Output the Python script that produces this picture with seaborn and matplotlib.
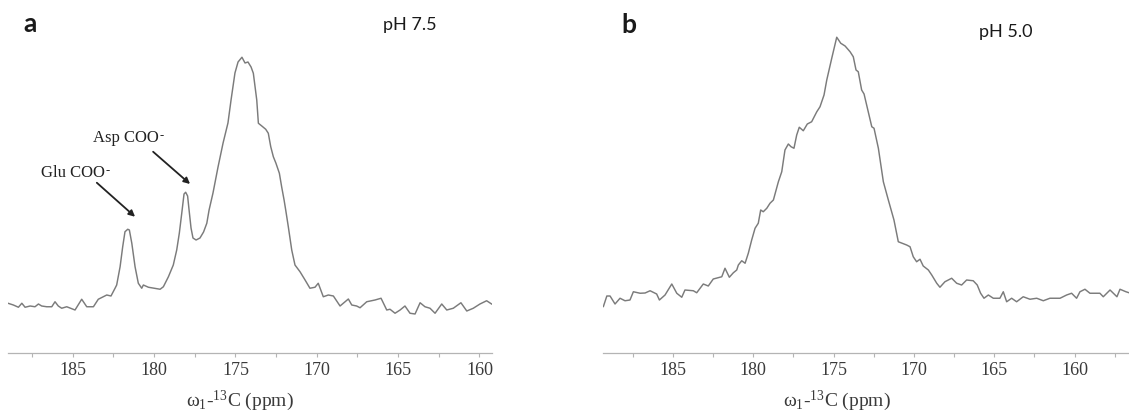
import matplotlib
matplotlib.use("Agg")
import matplotlib.pyplot as plt
import seaborn as sns
import pandas as pd
from matplotlib.ticker import MultipleLocator

# ---------------- data ----------------
ppm_a = [188.98, 188.65, 188.34, 188.13, 187.93, 187.62, 187.32, 187.11, 186.91, 186.60,
         186.29, 186.09, 185.89, 185.68, 185.37, 184.86, 184.45, 184.14, 183.73, 183.43,
         182.91, 182.65, 182.40, 182.30, 182.09, 181.93, 181.79, 181.62, 181.52, 181.37,
         181.17, 180.97, 180.76, 180.66, 180.35, 179.63, 179.43, 179.12, 178.82, 178.61,
         178.45, 178.30, 178.16, 178.06, 177.94, 177.85, 177.73, 177.61, 177.42, 177.18,
         176.96, 176.76, 176.62, 176.38, 176.07, 175.76, 175.46, 175.27, 175.03, 174.84,
         174.60, 174.41, 174.23, 174.04, 173.90, 173.69, 173.59, 173.38, 173.14, 172.98,
         172.83, 172.67, 172.51, 172.30, 172.16, 172.01, 171.91, 171.75, 171.54, 171.34,
         171.03, 170.72, 170.42, 170.11, 169.91, 169.60, 169.29, 168.98, 168.57, 168.06,
         167.85, 167.55, 167.34, 166.93, 166.42, 166.05, 165.70, 165.50, 165.19, 164.88,
         164.58, 164.27, 163.96, 163.65, 163.35, 163.04, 162.73, 162.32, 162.01, 161.61,
         161.14, 160.78, 160.38, 159.97, 159.56, 159.23]
int_a = [0.015, 0.008, -0.001, 0.015, -0.001, 0.004, 0.001, 0.012, 0.004, 0.001,
         0.001, 0.021, 0.004, -0.005, 0.001, -0.012, 0.031, 0.001, 0.001, 0.031,
         0.048, 0.044, 0.075, 0.088, 0.161, 0.241, 0.301, 0.311, 0.308, 0.255,
         0.161, 0.095, 0.075, 0.088, 0.079, 0.071, 0.081, 0.121, 0.168, 0.228,
         0.295, 0.375, 0.452, 0.459, 0.444, 0.388, 0.316, 0.276, 0.268, 0.276,
         0.300, 0.335, 0.388, 0.456, 0.560, 0.656, 0.736, 0.828, 0.936, 0.980,
         0.999, 0.976, 0.980, 0.960, 0.935, 0.828, 0.735, 0.724, 0.711, 0.695,
         0.641, 0.601, 0.575, 0.535, 0.481, 0.428, 0.388, 0.321, 0.228, 0.168,
         0.141, 0.108, 0.075, 0.079, 0.095, 0.041, 0.048, 0.044, 0.004, 0.032,
         0.008, 0.004, -0.003, 0.021, 0.028, 0.035, -0.012, -0.009, -0.025, -0.012,
         0.004, -0.025, -0.028, 0.017, 0.001, -0.005, -0.025, 0.012, -0.012, -0.005,
         0.017, -0.016, -0.005, 0.012, 0.025, 0.011]

ppm_b = [189.32, 189.10, 188.90, 188.59, 188.28, 187.97, 187.66, 187.45, 187.03, 186.72,
         186.41, 186.00, 185.83, 185.48, 185.06, 184.75, 184.44, 184.24, 183.72, 183.51,
         183.10, 182.79, 182.48, 181.95, 181.75, 181.48, 181.23, 181.02, 180.92, 180.71,
         180.50, 180.30, 180.09, 179.88, 179.68, 179.53, 179.37, 179.15, 178.95, 178.74,
         178.43, 178.22, 178.02, 177.81, 177.64, 177.46, 177.29, 177.13, 176.88, 176.63,
         176.36, 176.04, 175.84, 175.59, 175.42, 175.11, 174.80, 174.55, 174.28, 173.97,
         173.77, 173.60, 173.46, 173.25, 173.10, 172.84, 172.62, 172.48, 172.21, 171.90,
         171.59, 171.24, 170.97, 170.45, 170.24, 170.04, 169.83, 169.62, 169.42, 169.10,
         168.89, 168.58, 168.38, 168.07, 167.65, 167.34, 167.03, 166.72, 166.31, 166.06,
         165.85, 165.64, 165.37, 165.06, 164.65, 164.44, 164.23, 163.92, 163.61, 163.20,
         162.78, 162.36, 161.95, 161.54, 160.91, 160.50, 160.19, 159.88, 159.67, 159.36,
         159.05, 158.43, 158.22, 157.80, 157.37, 157.18, 156.81, 156.62]
int_b = [0.001, 0.044, 0.044, 0.012, 0.035, 0.025, 0.028, 0.061, 0.055, 0.056,
         0.065, 0.052, 0.028, 0.048, 0.092, 0.055, 0.039, 0.068, 0.065, 0.057,
         0.092, 0.084, 0.112, 0.121, 0.155, 0.119, 0.137, 0.148, 0.168, 0.185,
         0.175, 0.215, 0.268, 0.315, 0.335, 0.388, 0.381, 0.395, 0.415, 0.428,
         0.501, 0.541, 0.628, 0.652, 0.641, 0.635, 0.688, 0.719, 0.705, 0.732,
         0.741, 0.781, 0.801, 0.848, 0.908, 0.995, 1.079, 1.055, 1.044, 1.021,
         1.001, 0.948, 0.941, 0.868, 0.852, 0.781, 0.721, 0.715, 0.635, 0.501,
         0.428, 0.348, 0.261, 0.248, 0.241, 0.201, 0.181, 0.191, 0.164, 0.148,
         0.128, 0.095, 0.079, 0.101, 0.115, 0.095, 0.088, 0.108, 0.105, 0.088,
         0.055, 0.035, 0.048, 0.035, 0.035, 0.061, 0.021, 0.035, 0.021, 0.041,
         0.031, 0.035, 0.025, 0.035, 0.035, 0.048, 0.055, 0.035, 0.061, 0.071,
         0.055, 0.055, 0.041, 0.068, 0.041, 0.071, 0.061, 0.057]

panel_letters = ["a", "b"]
panel_titles = ["pH 7.5", "pH 5.0"]
peak_names = ["Glu COO", "Asp COO"]
xlabel_text = "ω$_1$-$^{13}$C (ppm)"
major_step = 5
minor_step = 2.5

# ---------------- style ----------------
sns.set_style("white")
plt.rcParams["font.family"] = ["Liberation Serif", "DejaVu Serif"]
plt.rcParams["mathtext.fontset"] = "custom"
plt.rcParams["mathtext.rm"] = "Liberation Serif"
plt.rcParams["mathtext.it"] = "Liberation Serif:italic"

W, H = 1129, 413
fig = plt.figure(figsize=(W / 100, H / 100), dpi=100)

line_color = "#7b7b7b"
axis_color = "#b4b4b4"
text_color = "#3a3a3a"

ybot_px, ytop_px = 352.6, 30.0
ax_bottom = 1 - ybot_px / H
ax_height = (ybot_px - ytop_px) / H

ax_a = fig.add_axes([8 / W, ax_bottom, (492 - 8) / W, ax_height])
ax_b = fig.add_axes([603.3 / W, ax_bottom, (W - 603.3) / W, ax_height])

df_a = pd.DataFrame({"ppm": ppm_a, "intensity": int_a})
df_b = pd.DataFrame({"ppm": ppm_b, "intensity": int_b})

for ax, df, xl, xlab_x in [(ax_a, df_a, (188.98, 159.23), 0.479),
                           (ax_b, df_b, (189.32, 156.62), 0.4446)]:
    sns.lineplot(data=df, x="ppm", y="intensity", ax=ax, sort=False,
                 estimator=None, color=line_color, linewidth=1.05)
    ax.set_xlim(*xl)
    ax.set_ylim(-0.1824, 1.108)
    for s in ["top", "right", "left"]:
        ax.spines[s].set_visible(False)
    ax.spines["bottom"].set_color(axis_color)
    ax.spines["bottom"].set_linewidth(0.9)
    ax.set_yticks([])
    ax.set_ylabel("")
    ax.xaxis.set_major_locator(MultipleLocator(major_step))
    ax.xaxis.set_minor_locator(MultipleLocator(minor_step))
    ax.tick_params(axis="x", which="both", direction="out", length=3, width=0.8,
                   color=axis_color, labelsize=13, labelcolor=text_color, pad=3.5,
                   bottom=True)
    ax.set_xlabel(xlabel_text, fontsize=14, color=text_color)
    ax.xaxis.set_label_coords(xlab_x, -0.113)
    ax.patch.set_alpha(0)

# peak annotations (panel a)
for name, (x0, yb) in zip(peak_names, [(186.95, 0.521), (183.75, 0.661)]):
    t = ax_a.text(x0, yb, name, fontsize=12, color="#222222",
                  ha="left", va="baseline")
    ax_a.annotate("-", xy=(1, 0), xycoords=t, xytext=(0.5, 4.5),
                  textcoords="offset points", fontsize=9, color="#222222",
                  ha="left", va="baseline")

arrow_kw = dict(arrowstyle="-|>", color="#222222", lw=1.3, mutation_scale=9,
                shrinkA=0, shrinkB=0)
ax_a.annotate("", xy=(181.17, 0.361), xytext=(183.52, 0.497), arrowprops=arrow_kw)
ax_a.annotate("", xy=(177.79, 0.492), xytext=(180.06, 0.621), arrowprops=arrow_kw)

# panel letters and titles
sans = ["Lato", "DejaVu Sans"]
fig.text(23 / W, 1 - 31.7 / H, panel_letters[0], fontsize=19, fontweight="bold",
         family=sans, color="#1a1a1a", ha="left", va="baseline")
fig.text(621.7 / W, 1 - 32.7 / H, panel_letters[1], fontsize=19, fontweight="bold",
         family=sans, color="#1a1a1a", ha="left", va="baseline")
fig.text(383 / W, 1 - 30 / H, panel_titles[0], fontsize=13, family=sans,
         color="#1a1a1a", ha="left", va="baseline")
fig.text(979 / W, 1 - 37.5 / H, panel_titles[1], fontsize=13, family=sans,
         color="#1a1a1a", ha="left", va="baseline")

fig.savefig("out.png", dpi=100)
